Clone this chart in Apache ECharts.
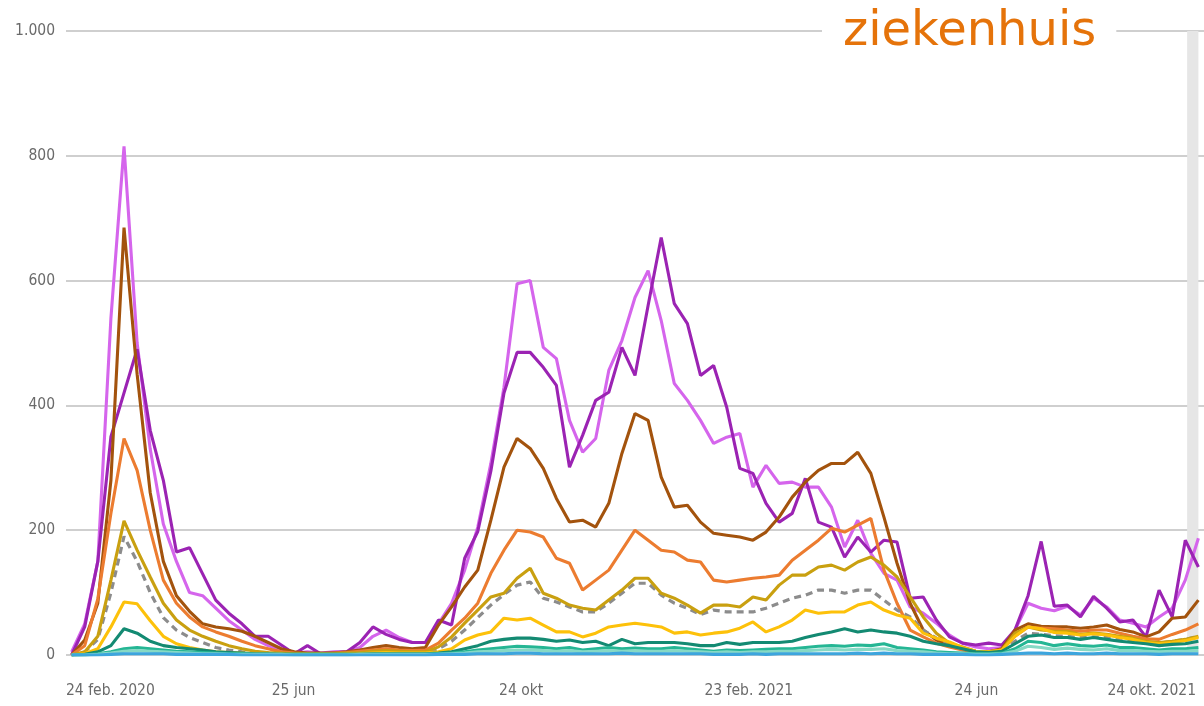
<!DOCTYPE html>
<html lang="nl">
<head>
  <meta charset="UTF-8">
  <title>ziekenhuis</title>
  <style>
    html, body { margin: 0; padding: 0; background: #fff; }
    #main { width: 1204px; height: 706px; }
  </style>
</head>
<body>
  <div id="main"></div>
</body>
<script src="https://cdn.jsdelivr.net/npm/echarts@6.0.0/dist/echarts.min.js"></script>
<script>
  // x axis: days since 24 feb 2020, weekly points plotted mid-week
  const startDate = '2020-02-24';
  const firstWeek = '2020-02-27';
  const weekCount = 87;
  const tickDates = ['2020-02-24', '2020-06-25', '2020-10-24', '2021-02-23', '2021-06-24', '2021-10-24'];
  const tickLabels = ['24 feb. 2020', '25 jun', '24 okt', '23 feb. 2021', '24 jun', '24 okt. 2021'];
  const yTicks = [0, 200, 400, 600, 800, 1000];

  const names = ['90+', '80-89', '70-79', '60-69', 'gemiddeld', '50-59', '40-49', '30-39', '20-29', '10-19', '0-9'];
  const colors = ['#d565ec', '#9b23b3', '#a3530d', '#ec7c30', '#8c8c8c', '#c9a010', '#fdc10a', '#138a72', '#25b694', '#86d9c5', '#3da5dd'];

  const age90 = [5, 50, 150, 540, 815, 500, 330, 210, 150, 100,
    95, 75, 55, 40, 25, 15, 8, 3, 5, 3,
    5, 5, 12, 30, 40, 28, 20, 20, 50, 83,
    136, 205, 307, 429, 595, 600, 493, 475, 376, 325,
    347, 456, 504, 573, 616, 536, 435, 408, 376, 339,
    349, 355, 269, 304, 275, 277, 269, 269, 237, 173,
    216, 163, 131, 120, 77, 67, 51, 32, 19, 13,
    10, 12, 40, 83, 75, 71, 78, 64, 91, 77,
    56, 51, 45, 61, 75, 120, 187];
  const age80 = [0, 45, 150, 350, 420, 490, 360, 280, 165, 172,
    130, 88, 67, 50, 30, 30, 16, 2, 15, 2,
    4, 5, 20, 45, 33, 25, 20, 20, 56, 48,
    155, 198, 295, 420, 485, 485, 461, 432, 301, 352,
    408, 421, 493, 448, 560, 669, 563, 531, 448, 464,
    397, 299, 291, 243, 213, 227, 283, 213, 205, 157,
    189, 165, 184, 181, 91, 93, 56, 29, 19, 16,
    19, 16, 40, 95, 182, 78, 80, 61, 94, 75,
    53, 56, 29, 104, 61, 184, 141];
  const age70 = [0, 24, 83, 280, 685, 450, 260, 150, 95, 70,
    50, 45, 42, 38, 30, 20, 10, 5, 3, 3,
    3, 5, 8, 12, 15, 12, 10, 12, 48, 77,
    109, 136, 216, 301, 347, 331, 299, 251, 213, 216,
    205, 243, 323, 387, 376, 285, 237, 240, 213, 195,
    192, 189, 184, 197, 221, 253, 277, 296, 307, 307,
    325, 291, 221, 147, 83, 40, 24, 16, 10, 6,
    5, 10, 40, 50, 46, 45, 45, 43, 45, 48,
    41, 37, 29, 37, 59, 61, 88];
  const age60 = [0, 15, 90, 227, 347, 296, 200, 120, 83, 61,
    45, 37, 30, 22, 15, 10, 5, 3, 2, 2,
    3, 4, 6, 8, 10, 8, 7, 8, 19, 40,
    59, 83, 131, 168, 200, 197, 189, 155, 147, 104,
    120, 136, 168, 200, 184, 168, 165, 152, 149, 120,
    117, 120, 123, 125, 128, 152, 168, 184, 203, 197,
    208, 219, 136, 83, 40, 29, 19, 13, 8, 5,
    5, 8, 30, 45, 43, 42, 40, 38, 40, 40,
    35, 30, 26, 25, 33, 40, 50];
  const average = [0, 5, 25, 100, 190, 150, 100, 60, 40, 28,
    20, 12, 8, 5, 4, 3, 2, 1, 1, 1,
    1, 2, 3, 4, 5, 4, 4, 4, 10, 22,
    40, 60, 80, 97, 112, 117, 91, 85, 77, 69,
    69, 83, 99, 115, 115, 96, 83, 75, 65, 72,
    69, 69, 69, 75, 83, 91, 96, 104, 104, 99,
    104, 104, 88, 72, 61, 40, 27, 19, 10, 5,
    4, 6, 22, 35, 33, 31, 30, 28, 29, 28,
    25, 23, 20, 19, 22, 25, 30];
  const age50 = [0, 5, 30, 120, 215, 168, 125, 83, 56, 40,
    30, 22, 15, 10, 6, 4, 3, 2, 2, 2,
    2, 3, 4, 6, 7, 6, 5, 5, 13, 29,
    51, 72, 93, 99, 123, 139, 99, 91, 80, 75,
    72, 88, 104, 123, 123, 99, 91, 80, 67, 80,
    80, 77, 93, 88, 112, 128, 128, 141, 144, 136,
    149, 157, 144, 125, 93, 61, 35, 19, 13, 6,
    5, 8, 35, 45, 40, 38, 38, 33, 35, 33,
    30, 27, 22, 20, 22, 25, 30];
  const age40 = [0, 2, 10, 45, 85, 82, 55, 30, 18, 12,
    8, 5, 4, 3, 2, 2, 1, 1, 1, 1,
    1, 2, 2, 3, 4, 3, 3, 3, 5, 10,
    24, 32, 37, 59, 56, 59, 48, 37, 37, 29,
    35, 45, 48, 51, 48, 45, 35, 37, 32, 35,
    37, 43, 53, 37, 45, 56, 72, 67, 69, 69,
    80, 85, 72, 64, 59, 35, 27, 21, 12, 6,
    5, 8, 30, 45, 42, 36, 35, 32, 34, 32,
    28, 25, 20, 18, 20, 23, 28];
  const age30 = [0, 1, 5, 15, 42, 35, 22, 15, 12, 10,
    8, 5, 4, 3, 2, 2, 1, 1, 1, 1,
    1, 1, 1, 2, 2, 2, 2, 2, 3, 5,
    10, 15, 22, 25, 27, 27, 25, 22, 24, 20,
    22, 15, 25, 18, 20, 20, 20, 18, 15, 15,
    20, 17, 20, 20, 20, 22, 28, 33, 37, 42,
    37, 40, 37, 35, 30, 22, 18, 15, 10, 5,
    4, 6, 18, 30, 32, 28, 28, 25, 28, 25,
    22, 20, 18, 15, 17, 18, 22];
  const age20 = [0, 0, 2, 5, 10, 12, 10, 8, 6, 5,
    4, 3, 2, 2, 1, 1, 1, 1, 1, 1,
    1, 1, 1, 1, 1, 1, 1, 1, 2, 3,
    5, 8, 10, 12, 14, 13, 12, 10, 12, 8,
    10, 12, 10, 11, 10, 10, 12, 10, 8, 6,
    8, 7, 8, 9, 10, 10, 12, 14, 15, 14,
    16, 15, 18, 12, 10, 8, 5, 4, 3, 2,
    2, 3, 10, 22, 20, 15, 18, 15, 14, 16,
    12, 12, 10, 8, 10, 10, 12];
  const age10 = [0, 0, 1, 3, 6, 7, 6, 5, 4, 3,
    2, 2, 1, 1, 1, 1, 1, 0, 0, 0,
    0, 0, 1, 1, 1, 1, 1, 1, 1, 2,
    3, 5, 6, 7, 8, 8, 7, 6, 7, 5,
    6, 7, 6, 7, 6, 6, 7, 6, 5, 4,
    5, 4, 5, 5, 6, 6, 7, 8, 9, 8,
    9, 9, 10, 7, 6, 5, 3, 2, 2, 1,
    1, 2, 6, 14, 12, 9, 11, 9, 8, 10,
    7, 7, 6, 5, 6, 6, 7];
  const age0 = [0, 0, 0, 1, 2, 2, 2, 2, 1, 1,
    1, 1, 1, 0, 0, 0, 0, 0, 0, 0,
    0, 0, 0, 0, 0, 0, 0, 0, 1, 1,
    1, 2, 2, 2, 3, 3, 2, 2, 2, 2,
    2, 2, 3, 2, 2, 2, 2, 2, 2, 1,
    1, 1, 2, 1, 2, 2, 2, 2, 2, 2,
    3, 2, 3, 2, 2, 1, 1, 1, 1, 0,
    0, 1, 2, 3, 3, 2, 3, 2, 2, 3,
    2, 2, 2, 1, 2, 2, 2];

  const values = [age90, age80, age70, age60, average, age50, age40, age30, age20, age10, age0];

  // highlighted last week (grey band on the right)
  const bandDates = ['2021-10-15', '2021-10-21'];

  const DAY = 86400000;
  const dayOf = (s) => Math.round((Date.parse(s) - Date.parse(startDate)) / DAY);
  const weekDays = [];
  for (let i = 0; i < weekCount; i++) weekDays.push(dayOf(firstWeek) + 7 * i);
  const tickDays = tickDates.map(dayOf);
  const tickStep = tickDays[tickDays.length - 1] / (tickDays.length - 1);

  const labelFont = '"DejaVu Sans Condensed", "DejaVu Sans", sans-serif';
  const labelColor = '#6a6a6a';

  const series = [{
    type: 'line',
    data: [],
    silent: true,
    z: 1,
    markArea: {
      silent: true,
      itemStyle: { color: '#e6e6e6' },
      data: [[{ xAxis: dayOf(bandDates[0]) }, { xAxis: dayOf(bandDates[1]) }]]
    }
  }];
  names.forEach(function (name, k) {
    series.push({
      name: name,
      type: 'line',
      showSymbol: false,
      symbol: 'none',
      animation: false,
      lineStyle: {
        color: colors[k],
        width: name === 'gemiddeld' ? 3.2 : 3.1,
        type: name === 'gemiddeld' ? [7, 5] : 'solid'
      },
      itemStyle: { color: colors[k] },
      data: values[k].map((v, i) => [weekDays[i], v])
    });
  });

  const myChart = echarts.init(document.getElementById('main'));

  myChart.setOption({
    animation: false,
    backgroundColor: '#fff',
    title: {
      text: 'ziekenhuis',
      left: 822,
      top: 6,
      padding: [0, 20, 0, 21],
      backgroundColor: '#fff',
      textStyle: {
        color: '#e5730a',
        fontFamily: 'DejaVu Sans',
        fontSize: 48,
        fontWeight: 'normal',
        lineHeight: 54
      }
    },
    grid: { left: 66, right: 0, top: 31, bottom: 51 },
    xAxis: {
      type: 'value',
      min: 0,
      max: tickDays[tickDays.length - 1],
      interval: tickStep,
      axisLine: { show: false },
      axisTick: { show: false },
      splitLine: { show: false },
      axisLabel: {
        margin: 28,
        color: labelColor,
        fontFamily: labelFont,
        fontSize: 15.5,
        alignMinLabel: 'left',
        alignMaxLabel: 'right',
        formatter: function (v) {
          const i = Math.round(v / tickStep);
          if (i === tickLabels.length - 1) return '{last|' + tickLabels[i] + '}';
          return tickLabels[i] || '';
        },
        rich: {
          last: {
            color: labelColor,
            fontFamily: labelFont,
            fontSize: 15.5,
            padding: [0, 8, 0, 0]
          }
        }
      }
    },
    yAxis: {
      type: 'value',
      min: yTicks[0],
      max: yTicks[yTicks.length - 1],
      interval: yTicks[1] - yTicks[0],
      axisLine: { show: false },
      axisTick: { show: false },
      splitLine: { lineStyle: { color: '#cfcfcf', width: 2 } },
      axisLabel: {
        margin: 11,
        color: labelColor,
        fontFamily: labelFont,
        fontSize: 15.5,
        formatter: function (v) {
          return String(v).replace(/\B(?=(\d{3})+(?!\d))/g, '.');
        }
      }
    },
    series: series
  });
</script>
</html>
